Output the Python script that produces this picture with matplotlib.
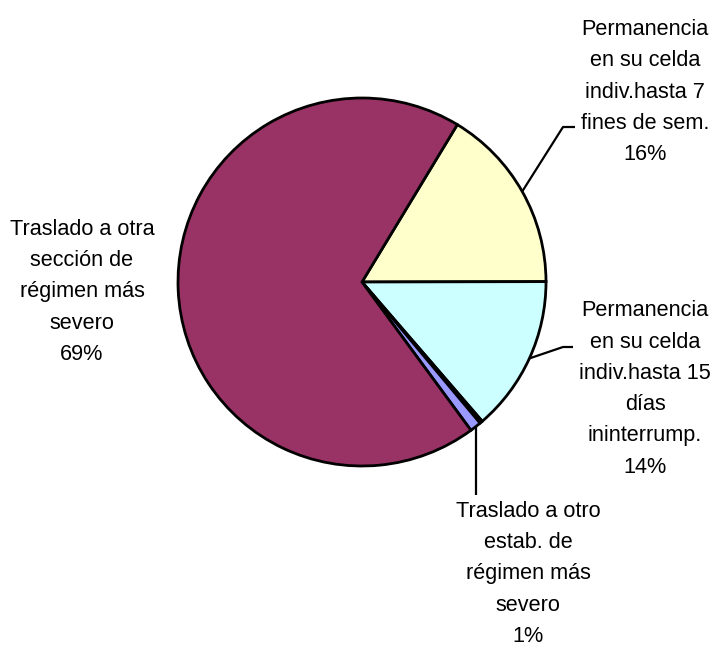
import numpy as np
import matplotlib
matplotlib.use("Agg")
import matplotlib.pyplot as plt

plt.rcParams['font.family'] = ['Liberation Sans', 'DejaVu Sans']

categories = [
    "Permanencia\nen su celda\nindiv.hasta 7\nfines de sem.",
    "Permanencia\nen su celda\nindiv.hasta 15\ndías\nininterrump.",
    "",
    "Traslado a otro\nestab. de\nrégimen más\nsevero",
    "Traslado a otra\nsección de\nrégimen más\nsevero",
]
values = [16.3, 13.7, 0.25, 1.0, 68.75]
pct_labels = ["16%", "14%", "", "1%", "69%"]
colors = ["#FFFFCC", "#CCFFFF", "#CCFFCC", "#9999FF", "#993366"]

W, H = 715, 652
fig = plt.figure(figsize=(W / 100, H / 100), dpi=100)
ax = fig.add_axes([0, 0, 1, 1])

cx, cy, R = 362, H - 282, 184
start = 58.8
wedges, _ = ax.pie(values, colors=colors, startangle=start, counterclock=False,
                   radius=R, center=(cx, cy),
                   wedgeprops=dict(edgecolor="black", linewidth=2.0))
ax.set_xlim(0, W)
ax.set_ylim(0, H)
ax.set_aspect("equal")
ax.axis("off")

fs = 15.6
ls = 1.64

# label placement (text centre in pixel coords, leader elbow offsets)
text_pos = {0: (645, 92), 1: (645, 389), 3: (528, 574), 4: (82, 292)}
elbows = {
    0: [(563, 127), (575, 127)],
    1: [(563, 347), (573, 347)],
    3: [None, (None, 495)],
}

for i, w in enumerate(wedges):
    if i not in text_pos:
        continue
    tx, ty = text_pos[i]
    ax.text(tx, H - ty, categories[i] + "\n" + pct_labels[i], ha="center", va="center",
            fontsize=fs, linespacing=ls, color="black")
    if i in elbows:
        mid = np.deg2rad((w.theta1 + w.theta2) / 2)
        x0, y0 = cx + R * np.cos(mid), cy + R * np.sin(mid)
        if i == 3:
            xs = [x0, x0]
            ys = [y0, H - 495]
        else:
            xs = [x0] + [p[0] for p in elbows[i]]
            ys = [y0] + [H - p[1] for p in elbows[i]]
        ax.plot(xs, ys, color="black", linewidth=1.6, solid_capstyle="butt")

fig.savefig("out.png", dpi=100)
